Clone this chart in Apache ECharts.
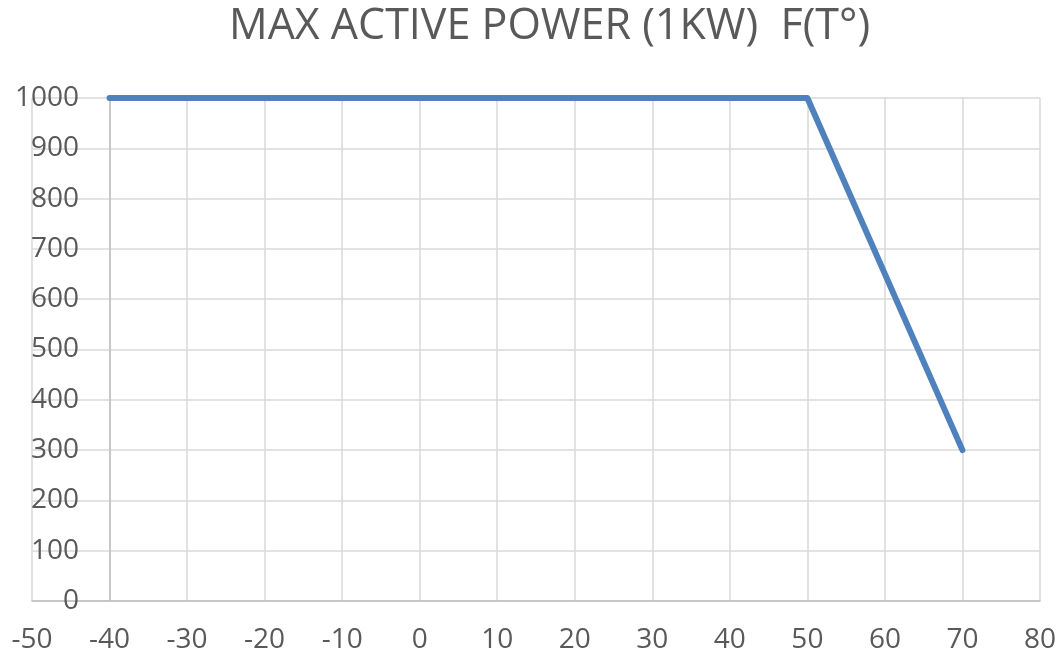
<!DOCTYPE html>
<html lang="en">
<head>
    <meta charset="UTF-8">
    <title>Max active power</title>
    <script src="https://cdn.jsdelivr.net/npm/echarts@6/dist/echarts.min.js"></script>
    <style>
        html, body { margin: 0; padding: 0; background: #fff; }
    </style>
</head>
<body>
<div id="main" style="width: 1060px;height:655px;"></div>
<script>
    var temps = [-40, 50, 70];
    var power = [1000, 1000, 300];
    var xTicks = [-50, 80, 10];
    var yTicks = [0, 1000, 100];

    var myChart = echarts.init(document.getElementById('main'));
    var font = '"Open Sans", "Noto Sans", sans-serif';
    var points = [];
    for (var i = 0; i < temps.length; i++) {
        points.push([temps[i], power[i]]);
    }

    var option = {
        animation: false,
        backgroundColor: '#fff',
        title: {
            text: 'MAX ACTIVE POWER (1KW)  F(T°)',
            left: 224,
            top: 0,
            textStyle: {
                fontFamily: font,
                fontSize: 43,
                fontWeight: 'normal',
                color: '#595959'
            }
        },
        grid: {
            left: 32,
            right: 20,
            top: 98,
            bottom: 54
        },
        xAxis: {
            type: 'value',
            min: xTicks[0],
            max: xTicks[1],
            interval: xTicks[2],
            axisLine: { show: true, onZero: false, lineStyle: { color: '#bfbfbf', width: 1.5 } },
            axisTick: { show: false },
            axisLabel: { fontFamily: font, fontSize: 28, color: '#595959', margin: 25 },
            splitLine: { show: true, lineStyle: { color: '#d9d9d9', width: 1.5 } }
        },
        yAxis: {
            type: 'value',
            min: yTicks[0],
            max: yTicks[1],
            interval: yTicks[2],
            axisLine: { show: false },
            axisTick: { show: false },
            axisLabel: {
                fontFamily: font, fontSize: 28, color: '#595959', margin: -47, align: 'right',
                formatter: function (v) { return String(v); }
            },
            splitLine: { show: true, lineStyle: { color: '#d9d9d9', width: 1.5 } }
        },
        series: [
            {
                type: 'line',
                data: points,
                symbol: 'none',
                lineStyle: { color: '#4f81bd', width: 6, cap: 'round', join: 'round' },
                markLine: {
                    silent: true,
                    symbol: 'none',
                    label: { show: false },
                    lineStyle: { color: '#bfbfbf', width: 1.5, type: 'solid' },
                    data: [{ xAxis: -40 }]
                },
                z: 5
            }
        ]
    };
    myChart.setOption(option);
</script>
</body>
</html>
